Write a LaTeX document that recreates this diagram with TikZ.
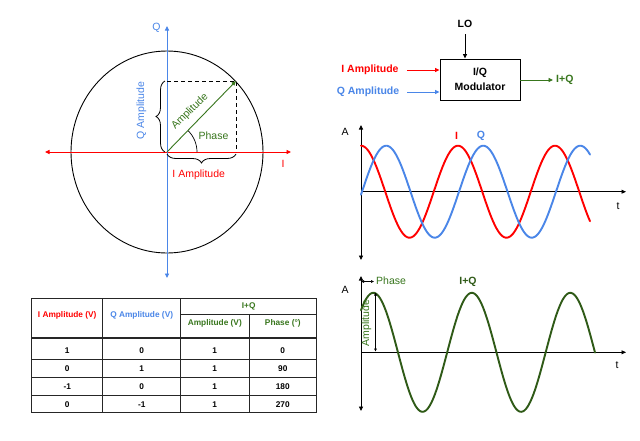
\documentclass[tikz,border=0pt]{standalone}
\usepackage{fontspec}
\setmainfont{Liberation Sans}
\usetikzlibrary{arrows.meta,decorations.pathreplacing,calc}
\definecolor{cred}{HTML}{FF0000}
\definecolor{cblue}{HTML}{4A86E8}
\definecolor{cgreen}{HTML}{38761D}
\definecolor{wgreen}{HTML}{2F5A17}
\tikzset{
  tip/.style={-{Triangle[length=4.5pt,width=4pt]}},
  tips/.style={{Triangle[length=4.5pt,width=4pt]}-{Triangle[length=4.5pt,width=4pt]}},
  smalltips/.style={{Triangle[length=3pt,width=2.6pt]}-{Triangle[length=3pt,width=2.6pt]}},
  lbl/.style={font=\fontsize{10.5}{12}\selectfont, inner sep=0pt},
  blbl/.style={font=\fontsize{10.5}{12}\selectfont\bfseries, inner sep=0pt},
  tlbl/.style={font=\fontsize{8.3}{9}\selectfont\bfseries, inner sep=0pt},
  wave/.style={line width=1.9pt, line cap=round},
  br/.style={decorate, decoration={brace, amplitude=9pt}, line width=0.8pt},
  tline/.style={line width=0.9pt, draw=black!85},
}
\begin{document}
\begin{tikzpicture}[x=1pt,y=-1pt]
\useasboundingbox[fill=white] (0,0) rectangle (640,440);

% ---------- constellation ----------
\coordinate (O) at (167,152);
\coordinate (P) at (236,81);
\draw[line width=0.9pt] (O) ellipse [x radius=96, y radius=101];
\coordinate (il) at (45,152);
\coordinate (ir) at (291,152);
\coordinate (qt) at (167,26);
\coordinate (qb) at (167,278);
\draw[cred, line width=0.9pt, tips] (il) -- (ir);
\draw[cblue, line width=0.9pt, tips] (qb) -- (qt);
\node[lbl, text=cblue] (qlab) at (156.5,28) {Q};
\node[lbl, text=cred] (ilab) at (283,164) {I};
\draw[dashed, line width=0.9pt, dash pattern=on 4pt off 3pt] (O |- P) -- (P) -- (P |- O);
\draw[cgreen, line width=0.9pt, tip] (O) -- (P);
\draw[line width=0.7pt] ($(O)+(30,0)$) arc[start angle=0, end angle=-45, radius=30];
\draw[br] (165,152) -- (165,81);
\draw[br] (236,154) -- (167,154);
\node[lbl, text=cblue, rotate=90] (qamp) at (141.5,110.5) {Q Amplitude};
\node[lbl, text=cred] (iamp) at (198.7,175) {I Amplitude};
\node[lbl, text=cgreen, rotate=45] (amp) at (190,111.5) {Amplitude};
\node[lbl, text=cgreen] (ph) at (213.5,136) {Phase};

% ---------- block diagram ----------
\node[draw, line width=0.9pt, minimum width=80pt, minimum height=41pt, align=center,
      font=\fontsize{10.5}{15}\selectfont\bfseries, inner sep=0pt] (mod) at (480,79.5) {I/Q\\Modulator};
\node[blbl] (lo) at (465,23.5) {LO};
\node[blbl, text=cred] (bi) at (370,70) {I Amplitude};
\node[blbl, text=cblue] (bq) at (368,92) {Q Amplitude};
\node[blbl, text=cgreen, anchor=west] (biq) at (556,80) {I+Q};
\draw[line width=0.9pt, tip] ([yshift=-7pt]lo.south) -- (lo.south |- mod.north);
\draw[cred, line width=0.9pt, tip] ([xshift=8pt]bi.east) -- (bi.east -| mod.west);
\draw[cblue, line width=0.9pt, tip] (407,92) coordinate (bqs) -- (bqs -| mod.west);
\draw[cgreen, line width=0.9pt, tip] (mod.east |- biq.west) -- ([xshift=-3pt]biq.west);

% ---------- I and Q waves ----------
\coordinate (w1o) at (361,191.7);
\coordinate (w1t) at (361,125);
\coordinate (w1b) at (361,260);
\coordinate (w1r) at (626,191.7);
\draw[line width=0.9pt, tips] (w1b) -- (w1t);
\draw[line width=0.9pt, tip] (w1o) -- (w1r);
\node[lbl] (w1A) at (345,132) {A};
\node[lbl] (w1tl) at (618,206) {t};
\draw[cred, wave] plot[domain=0:229, samples=150, smooth] ({361+\x},{191.7-46*cos(\x*3.7113)});
\draw[cblue, wave] plot[domain=0:229, samples=150, smooth] ({361+\x},{191.7-46*sin((\x-1)*3.7113)});
\node[blbl, text=cred] (wI) at (456.5,135.5) {I};
\node[blbl, text=cblue] (wQ) at (481,135.5) {Q};

% ---------- I+Q wave ----------
\coordinate (w2o) at (361,352.3);
\coordinate (w2t) at (361,276);
\coordinate (w2b) at (361,411);
\coordinate (w2r) at (626,352.3);
\draw[line width=0.9pt, tips] (w2b) -- (w2t);
\draw[line width=0.9pt, tip] (w2o) -- (w2r);
\node[lbl] (w2A) at (345,290) {A};
\node[lbl] (w2tl) at (617,365) {t};
\draw[wgreen, wave] plot[domain=0:234, samples=160, smooth] ({361+\x},{352.3-59.5*cos(\x*3.6548-45)});
\coordinate (pha) at (361,281.5);
\coordinate (phb) at (374,281.5);
\draw[line width=0.6pt, smalltips] (pha) -- (phb);
\node[lbl, text=cgreen, anchor=west] (w2ph) at (376,280.5) {Phase};
\node[blbl, text=wgreen] (w2iq) at (468,282) {I+Q};
\coordinate (aa) at (375.5,292.5);
\coordinate (ab) at (375.5,351.5);
\draw[line width=0.6pt, smalltips] (aa) -- (ab);
\node[lbl, text=cgreen, rotate=90] (w2amp) at (366.5,323) {Amplitude};

% ---------- table ----------
\def\tl{31.7}\def\tr{316.7}\def\ca{102.7}\def\cb{180.7}\def\cc{249}
\draw[tline] (\tl,298.3) rectangle (\tr,412.7);
\draw[tline] (\ca,298.3) -- (\ca,412.7);
\draw[tline] (\cb,298.3) -- (\cb,412.7);
\draw[tline] (\cc,314.3) -- (\cc,412.7);
\draw[tline] (\cb,314.3) -- (\tr,314.3);
\draw[line width=1.6pt, draw=black!85] (\tl,337.7) -- (\tr,337.7);
\draw[tline] (\tl,359) -- (\tr,359);
\draw[tline] (\tl,377.3) -- (\tr,377.3);
\draw[tline] (\tl,395.7) -- (\tr,395.7);
\node[tlbl, text=cred] (h1) at (67.2,315) {I Amplitude (V)};
\node[tlbl, text=cblue] (h2) at (141.7,315) {Q Amplitude (V)};
\node[tlbl, text=cgreen] (h3) at (248.7,306) {I+Q};
\node[tlbl, text=cgreen] (h4) at (214.8,323.5) {Amplitude (V)};
\node[tlbl, text=cgreen] (h5) at (282.8,323.5) {Phase (°)};
\foreach \a/\b/\c/\d/\y [count=\i] in {1/0/1/0/350.5, 0/1/1/90/368.5, -1/0/1/180/387, 0/-1/1/270/404.5}{
  \node[tlbl] (r\i a) at (67.2,\y) {\a};
  \node[tlbl] (r\i b) at (141.7,\y) {\b};
  \node[tlbl] (r\i c) at (214.8,\y) {\c};
  \node[tlbl] (r\i d) at (282.8,\y) {\d};
}
\end{tikzpicture}
\end{document}
